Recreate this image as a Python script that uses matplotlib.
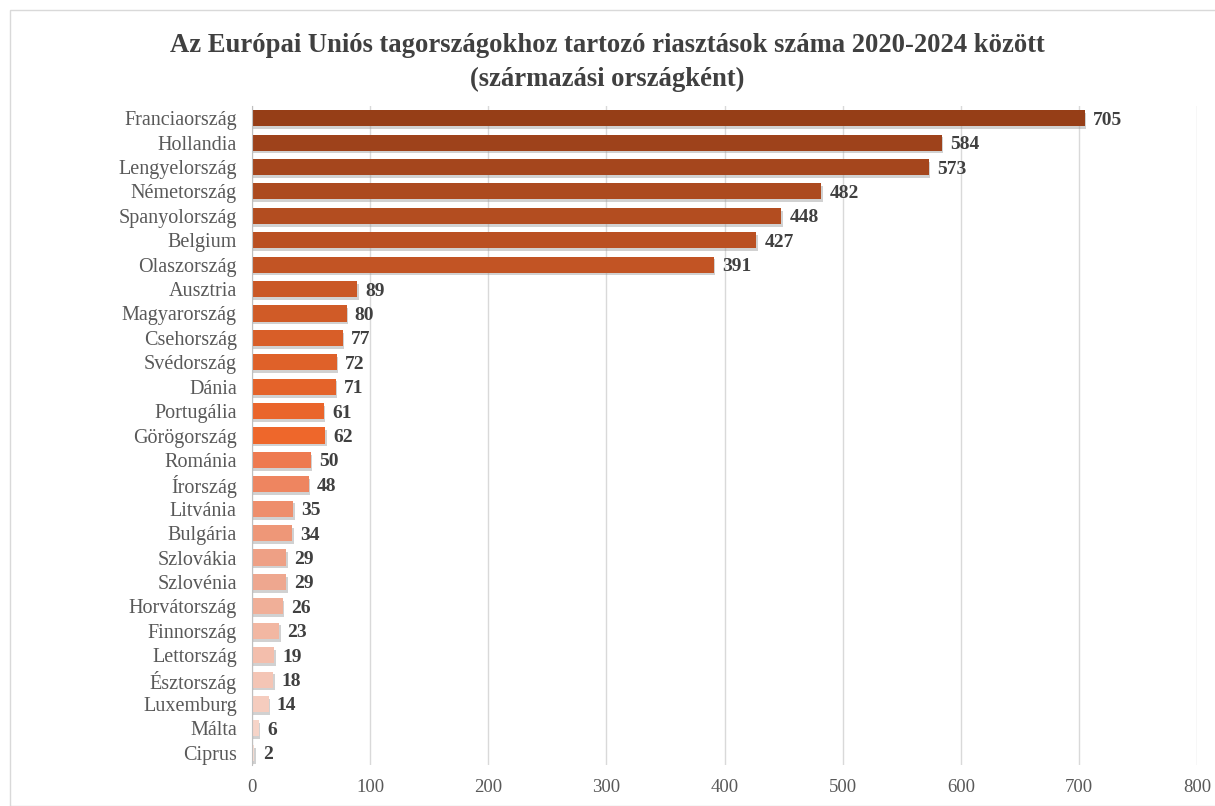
import numpy as np
import matplotlib.pyplot as plt
import matplotlib.patheffects as pe
from matplotlib.patches import Rectangle

# riasztások száma származási országonként (2020-2024)
countries = ["Franciaország", "Hollandia", "Lengyelország", "Németország", "Spanyolország",
             "Belgium", "Olaszország", "Ausztria", "Magyarország", "Csehország",
             "Svédország", "Dánia", "Portugália", "Görögország", "Románia", "Írország",
             "Litvánia", "Bulgária", "Szlovákia", "Szlovénia", "Horvátország",
             "Finnország", "Lettország", "Észtország", "Luxemburg", "Málta", "Ciprus"]
values = [705, 584, 573, 482, 448, 427, 391, 89, 80, 77, 72, 71, 61, 62, 50, 48,
          35, 34, 29, 29, 26, 23, 19, 18, 14, 6, 2]
colors = ["#963E17", "#9E421B", "#A5461D", "#AC4A1F", "#B34D20", "#BA5022", "#C25424",
          "#CA5826", "#D05B27", "#D85E28", "#DF6129", "#E4632A", "#EA652B", "#EE672B",
          "#EE7A50", "#EE8560", "#EE8E6C", "#EE9778", "#EEA085", "#EEA78F", "#F0AF98",
          "#F2B7A2", "#F3BEAC", "#F4C5B5", "#F5CCBE", "#F6D4C8", "#F7DCD2"]

plt.rcParams['font.family'] = ['Liberation Serif', 'DejaVu Serif']

fig = plt.figure(figsize=(12.15, 8.06), dpi=100)
ax = fig.add_axes([252/1215, 1-765/806, (1197-252)/1215, (765-106)/806])

y = np.arange(len(countries))
bars = ax.barh(y, values, height=0.66, color=colors, zorder=3)
for b in bars:
    b.set_path_effects([pe.SimplePatchShadow(offset=(1, -2), shadow_rgbFace='#999999', alpha=0.45),
                        pe.Normal()])
for yi, v in zip(y, values):
    ax.text(v + 7, yi, str(v), va='center_baseline', ha='left', fontsize=14,
            fontweight='bold', color='#404040', zorder=4)

ax.set_xlim(0, 800)
ax.set_ylim(len(countries) - 0.5, -0.5)
ax.set_xticks(np.arange(0, 801, 100))
ax.set_yticks(y)
ax.set_yticklabels(countries)
ax.tick_params(axis='y', length=0, pad=11, labelsize=14.5, labelcolor='#595959')
ax.tick_params(axis='x', length=0, pad=10, labelsize=13.5, labelcolor='#595959')
ax.grid(axis='x', color='#D9D9D9', linewidth=1, zorder=0)
for s in ['top', 'right', 'bottom']:
    ax.spines[s].set_visible(False)
ax.spines['left'].set_color('#BFBFBF')
ax.spines['left'].set_zorder(5)

fig.text(0.5, 1-45/806, "Az Európai Uniós tagországokhoz tartozó riasztások száma 2020-2024 között",
         ha='center', va='center', fontsize=19.2, fontweight='bold', color='#404040')
fig.text(0.5, 1-79/806, "(származási országként)",
         ha='center', va='center', fontsize=19.2, fontweight='bold', color='#404040')

fig.patches.append(Rectangle((10/1215, 0), 1210/1215, 1-10/806, transform=fig.transFigure,
                             fill=False, edgecolor='#D9D9D9', linewidth=1))

fig.savefig("out.png", dpi=100)
